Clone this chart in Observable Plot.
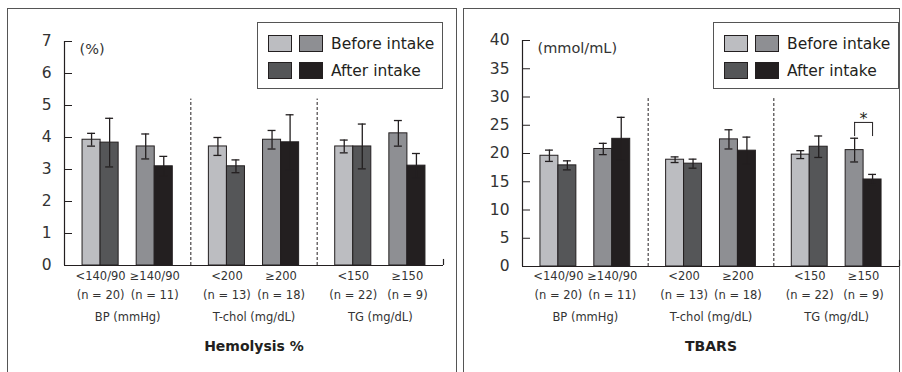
<!DOCTYPE html>
<html><head><meta charset="utf-8">
<script src="https://cdn.jsdelivr.net/npm/d3@7"></script>
<script src="https://cdn.jsdelivr.net/npm/@observablehq/plot@0.6"></script>
<style>
body{margin:0;background:#fff;}
#wrap{position:relative;width:902px;height:372px;overflow:hidden;font-family:"DejaVu Sans",sans-serif;color:#231f20;background:#fff;}
.panel{position:absolute;top:8px;height:400px;border:1px solid #555;box-sizing:border-box;}
.chart{position:absolute;top:0;}
.legend{position:absolute;top:22px;height:67px;border:1px solid #555;box-sizing:border-box;background:#fff;}
.row{position:absolute;left:10px;display:flex;align-items:center;height:17px;}
.sw{width:24px;height:17px;border:1px solid #231f20;box-sizing:border-box;margin-right:7px;}
.lab{font-size:15.5px;margin-left:1px;white-space:nowrap;}
</style></head>
<body>
<div id="wrap"></div>
<script>
// ---------- data ----------
const groups = ["BP (mmHg)", "T-chol (mg/dL)", "TG (mg/dL)"];
const levels = ["<140/90", "≥140/90", "<200", "≥200", "<150", "≥150"];
const ns = ["(n = 20)", "(n = 11)", "(n = 13)", "(n = 18)", "(n = 22)", "(n = 9)"];
const timepoints = ["Before intake", "After intake"];

const hemoBefore   = [3.93, 3.72, 3.72, 3.93, 3.72, 4.13];
const hemoBeforeSD = [0.20, 0.39, 0.28, 0.29, 0.20, 0.40];
const hemoAfter    = [3.84, 3.10, 3.10, 3.85, 3.72, 3.12];
const hemoAfterSD  = [0.76, 0.31, 0.20, 0.86, 0.70, 0.38];
const hemoTicks    = [0, 1, 2, 3, 4, 5, 6, 7];

const tbarsBefore   = [19.6, 20.8, 18.9, 22.5, 19.8, 20.6];
const tbarsBeforeSD = [1.0, 1.0, 0.5, 1.7, 0.7, 2.1];
const tbarsAfter    = [17.9, 22.6, 18.2, 20.5, 21.2, 15.4];
const tbarsAfterSD  = [0.8, 3.8, 0.8, 2.4, 1.9, 0.9];
const tbarsTicks    = [0, 5, 10, 15, 20, 25, 30, 35, 40];
// significance: TG >=150 pair (index 5) in TBARS
const tbarsSig = [{pair: 5, top: 25.5, leg: 23.0, label: "*"}];

// colours: [low-level pair, high-level pair] x [before, after]
const fills = {low: ["#bcbdc1", "#555658"], high: ["#8e8f93", "#231f20"]};
const ink = "#231f20";

// ---------- layout of slots along x ----------
const layout = [null];
groups.forEach((g, gi) => {
  if (gi > 0) layout.push("divider", null);
  [0, 1].forEach(k => {
    if (k) layout.push({gap: gi});
    const p = gi * 2 + k;
    layout.push({pair: p, t: 0}, {pair: p, t: 1});
  });
});
layout.push(null);
const nSlots = layout.length;

function makeChart(o) {
  const bars = [];
  layout.forEach((s, i) => {
    if (s && s.pair !== undefined) {
      const v = s.t === 0 ? o.before[s.pair] : o.after[s.pair];
      const e = s.t === 0 ? o.beforeSD[s.pair] : o.afterSD[s.pair];
      bars.push({i, v, lo: v - e, hi: v + e,
        fill: fills[s.pair % 2 === 0 ? "low" : "high"][s.t]});
    }
  });
  const pairs = [];
  layout.forEach((s, i) => { if (s && s.pair !== undefined && s.t === 0) pairs.push({c: i + 1, level: levels[s.pair], n: ns[s.pair], pair: s.pair}); });
  const groupLabels = [];
  layout.forEach((s, i) => { if (s && s.gap !== undefined) groupLabels.push({c: i + 0.5, g: groups[s.gap]}); });
  const dividers = [];
  layout.forEach((s, i) => { if (s === "divider") dividers.push(i + 1); });
  const yMax = o.ticks[o.ticks.length - 1];
  const cap = 0.22;
  const sig = (o.sig || []).map(d => {
    const c = pairs.find(p => p.pair === d.pair).c;
    return {...d, xa: c - 0.5, xb: c + 0.5, c};
  });
  const off = o.labelOffset;
  return Plot.plot({
    width: 451, height: 372,
    marginLeft: o.marginLeft, marginRight: o.marginRight,
    marginTop: o.marginTop, marginBottom: o.marginBottom,
    style: {fontFamily: "DejaVu Sans, sans-serif", fontSize: "11.5px", color: ink, background: "transparent", overflow: "visible"},
    x: {domain: [0, nSlots], axis: null},
    y: {domain: [0, yMax], axis: null},
    color: {type: "identity"},
    marks: [
      Plot.ruleX(dividers, {y1: 0, y2: yMax * 0.743, stroke: ink, strokeWidth: 1, strokeDasharray: "3,2"}),
      Plot.rect(bars, {x1: "i", x2: d => d.i + 1, y1: 0, y2: "v", fill: "fill", stroke: ink, strokeWidth: 1}),
      Plot.ruleX(bars, {x: d => d.i + 0.5, y1: "lo", y2: "hi", stroke: ink, strokeWidth: 1.3}),
      Plot.ruleY(bars, {y: "hi", x1: d => d.i + 0.5 - cap, x2: d => d.i + 0.5 + cap, stroke: ink, strokeWidth: 1.3}),
      Plot.ruleY(bars, {y: "lo", x1: d => d.i + 0.5 - cap, x2: d => d.i + 0.5 + cap, stroke: ink, strokeWidth: 1.3}),
      Plot.ruleX([0], {stroke: ink, strokeWidth: 1.2}),
      Plot.ruleY([0], {stroke: ink, strokeWidth: 1.2}),
      Plot.ruleX([nSlots], {y1: 0, y2: yMax * 0.027, stroke: ink, strokeWidth: 1.2}),
      Plot.axisY(o.ticks, {tickSize: -8, tickPadding: 21, fontSize: 15.5, color: "#333", stroke: ink}),
      Plot.text([o.unit], {frameAnchor: "top-left", textAnchor: "start", dx: 15, dy: 2, fontSize: 14.5, fill: "#333"}),
      // significance bracket
      Plot.ruleY(sig, {y: "top", x1: "xa", x2: "xb", stroke: ink}),
      Plot.ruleX(sig, {x: "xa", y1: "leg", y2: "top", stroke: ink}),
      Plot.ruleX(sig, {x: "xb", y1: "leg", y2: "top", stroke: ink}),
      Plot.text(sig, {x: "c", y: "top", text: "label", dy: -4, fontSize: 16, fill: ink}),
      // category labels
      Plot.text(pairs, {x: "c", text: "level", frameAnchor: "bottom", dy: off + 14, fill: "#333"}),
      Plot.text(pairs, {x: "c", text: "n", frameAnchor: "bottom", dy: off + 33, fill: "#333"}),
      Plot.text(groupLabels, {x: "c", text: "g", frameAnchor: "bottom", dy: off + 55, fill: "#333"}),
      Plot.text([o.title], {frameAnchor: "bottom", dy: off + 85, fontSize: 14, fontWeight: "bold", fill: ink})
    ]
  });
}

const wrap = document.getElementById("wrap");
function addPanel(left, width) {
  const p = document.createElement("div");
  p.className = "panel"; p.style.left = left + "px"; p.style.width = width + "px";
  wrap.appendChild(p);
}
function addChart(svg, left) {
  const d = document.createElement("div");
  d.className = "chart"; d.style.left = left + "px";
  d.appendChild(svg); wrap.appendChild(d);
}
function addLegend(left) {
  const lg = document.createElement("div");
  lg.className = "legend"; lg.style.left = left + "px"; lg.style.width = "186px";
  [["low", "high"]].forEach(() => {});
  timepoints.forEach((t, ti) => {
    const r = document.createElement("div");
    r.className = "row"; r.style.top = (ti === 0 ? 12 : 39) + "px";
    ["low", "high"].forEach(k => {
      const s = document.createElement("div");
      s.className = "sw"; s.style.background = fills[k][ti];
      r.appendChild(s);
    });
    const l = document.createElement("span");
    l.className = "lab"; l.textContent = t;
    r.appendChild(l);
    lg.appendChild(r);
  });
  wrap.appendChild(lg);
}

addPanel(7, 450);
addPanel(463, 437);

addChart(makeChart({
  before: hemoBefore, beforeSD: hemoBeforeSD, after: hemoAfter, afterSD: hemoAfterSD,
  ticks: hemoTicks, unit: "(%)", title: "Hemolysis %",
  marginLeft: 64, marginRight: 8, marginTop: 41, marginBottom: 107, labelOffset: 0
}), 0);
addChart(makeChart({
  before: tbarsBefore, beforeSD: tbarsBeforeSD, after: tbarsAfter, afterSD: tbarsAfterSD,
  ticks: tbarsTicks, unit: "(mmol/mL)", title: "TBARS", sig: tbarsSig,
  marginLeft: 71, marginRight: 3, marginTop: 40, marginBottom: 106, labelOffset: -1
}), 451);

addLegend(257);
addLegend(713);
</script>
</body></html>
